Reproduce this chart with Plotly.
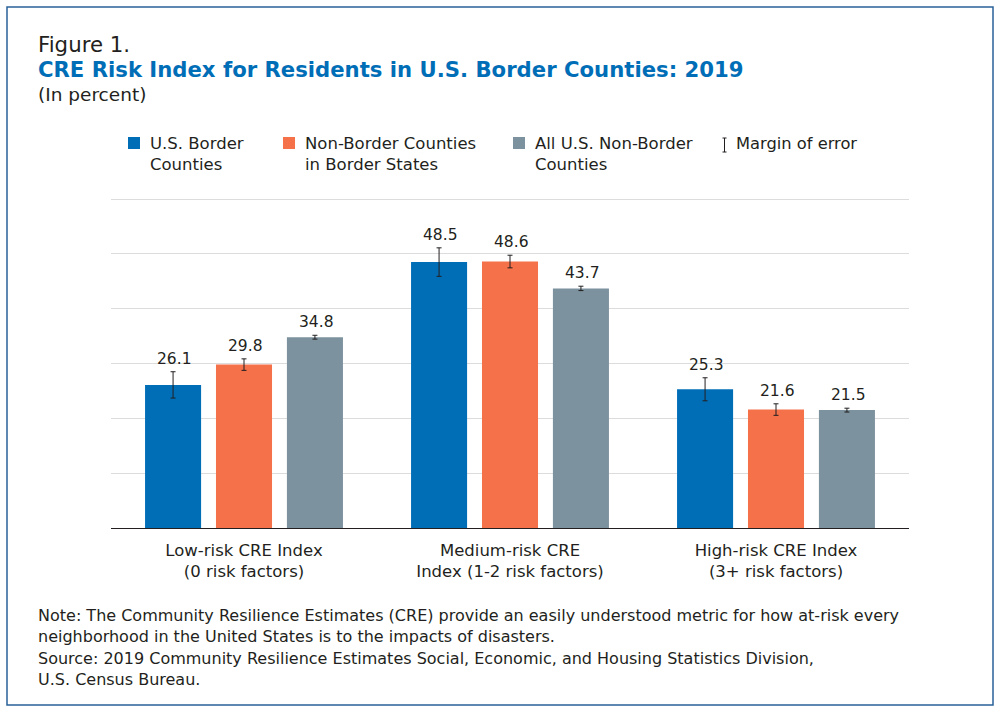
import plotly.graph_objects as go

categories = ["Low-risk CRE Index<br>(0 risk factors)",
              "Medium-risk CRE<br>Index (1-2 risk factors)",
              "High-risk CRE Index<br>(3+ risk factors)"]
series_names = ["U.S. Border<br>Counties", "Non-Border Counties<br>in Border States", "All U.S. Non-Border<br>Counties"]
border_values = [26.1, 48.5, 25.3]
non_border_state_values = [29.8, 48.6, 21.6]
all_non_border_values = [34.8, 43.7, 21.5]
border_moe = [2.4, 2.6, 2.1]
non_border_state_moe = [1.05, 1.15, 1.05]
all_non_border_moe = [0.35, 0.4, 0.35]
colors = ["#006EB7", "#F4714A", "#7C929E"]
y_ticks = [0, 10, 20, 30, 40, 50, 60]

W, H = 1000, 711
# top margin leaves 2px above the 60 line, plotly drops a gridline sitting on the plot edge
LEFT, RIGHT, TOP, BOTTOM = 111, 91, 197, 183
FONT = "DejaVu Sans"
TEXT = "#231F20"
KEY_X = [128, 283, 513]


def px(x):
    return (x - LEFT) / (W - LEFT - RIGHT)


def py(y):
    return (H - BOTTOM - y) / (H - TOP - BOTTOM)


def note(x, y, text, size, color=TEXT):
    fig.add_annotation(x=px(x), y=py(y), xref="paper", yref="paper", text=text, showarrow=False,
                       xanchor="left", yanchor="middle", align="left", xshift=-1,
                       font=dict(family=FONT, size=size, color=color))


fig = go.Figure()
all_values = [border_values, non_border_state_values, all_non_border_values]
all_moe = [border_moe, non_border_state_moe, all_non_border_moe]
for name, vals, moe, color in zip(series_names, all_values, all_moe, colors):
    fig.add_trace(go.Bar(x=categories, y=vals, name=name, showlegend=False, marker=dict(color=color, line_width=0),
                         error_y=dict(type="data", array=moe, color="#231F20", thickness=1, width=2.5)))

# value labels sit above the error bar caps
for i, (vals, moe) in enumerate(zip(all_values, all_moe)):
    for cat, v, m in zip(categories, vals, moe):
        fig.add_annotation(x=cat, y=v + m, text=f"{v:.1f}", showarrow=False, xshift=(i - 1) * 71 + 1, yshift=13,
                           font=dict(family=FONT, size=15.5, color=TEXT))

fig.update_layout(
    width=W, height=H, margin=dict(l=LEFT, r=RIGHT, t=TOP, b=BOTTOM),
    paper_bgcolor="white", plot_bgcolor="white",
    barmode="group", bargap=0.2, bargroupgap=0.21,
    font=dict(family=FONT, color=TEXT),
    xaxis=dict(showline=True, linecolor="#231F20", linewidth=1, ticks="", ticklabelstandoff=7,
               tickfont=dict(size=16.5, family=FONT, color=TEXT)),
    yaxis=dict(range=[0, 60.37], tickvals=y_ticks, showticklabels=False, gridcolor="#DCDCDC", gridwidth=1, zeroline=False),
)

note(37, 44, "Figure 1.", 21.3)
note(37, 70, "<b>CRE Risk Index for Residents in U.S. Border Counties: 2019</b>", 21.2, "#006EB7")
note(37, 95, "(In percent)", 18.5)

# hand placed key, the entries are not evenly spaced
for x, name, color in zip(KEY_X, series_names, colors):
    fig.add_shape(type="rect", xref="paper", yref="paper", x0=px(x), x1=px(x + 12), y0=py(149), y1=py(137),
                  fillcolor=color, line_width=0)
    note(x + 21, 153.5, name, 16.5)
note(735, 144, "Margin of error", 16.3)
for x0, y0, x1, y1 in [(724.5, 138, 724.5, 152), (722.5, 138, 726.5, 138), (722.5, 152, 726.5, 152)]:
    fig.add_shape(type="line", xref="paper", yref="paper", x0=px(x0), x1=px(x1), y0=py(y0), y1=py(y1),
                  line=dict(color="#231F20", width=1))

note(37, 626, "Note: The Community Resilience Estimates (CRE) provide an easily understood metric for how at-risk every<br>"
              "neighborhood in the United States is to the impacts of disasters.", 16)
note(37, 669, "Source: 2019 Community Resilience Estimates Social, Economic, and Housing Statistics Division,<br>"
              "U.S. Census Bureau.", 16)

# outer frame
fig.add_shape(type="rect", xref="paper", yref="paper", x0=px(7), x1=px(993), y0=py(705), y1=py(7),
              line=dict(color="#2A6099", width=1.5))

fig.write_html("out.html", config=dict(displayModeBar=False), post_script="document.body.style.margin='0';")
